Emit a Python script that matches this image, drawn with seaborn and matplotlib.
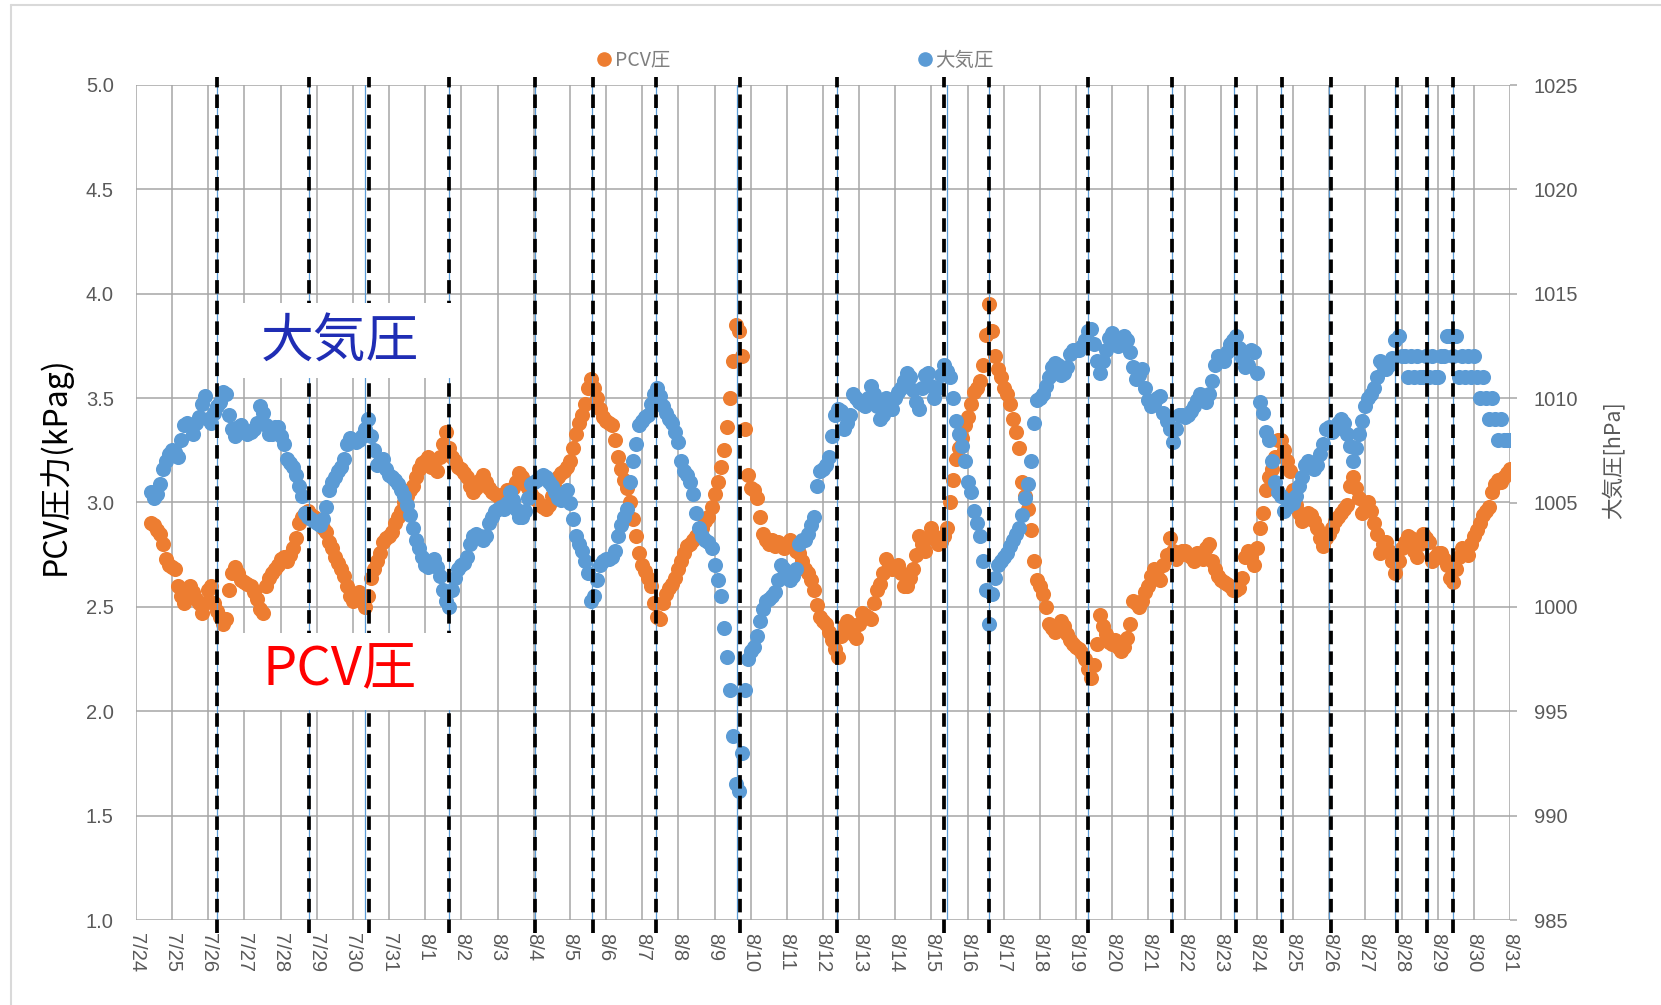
import matplotlib
matplotlib.use("Agg")
import matplotlib.pyplot as plt
import seaborn as sns
import pandas as pd
import numpy as np
from matplotlib.patches import Rectangle
from matplotlib.lines import Line2D

# ---------------- data ----------------
series_start = "2018-07-24 10:00"   # first sample, 2-hour interval
step = "2h"

# PCV pressure [kPag], 2-hourly from 7/24 10:00
pcv_kpa = [
    2.90, 2.89, 2.87, 2.85, 2.80, 2.73, 2.70,
    2.69, 2.68, 2.60, 2.55, 2.52, 2.55, 2.60, 2.57, 2.54, 2.52, 2.47, 2.52,
    2.58, 2.60, 2.52, 2.48, 2.45, 2.42, 2.44, 2.58, 2.66, 2.69, 2.66, 2.63,
    2.62, 2.61, 2.60, 2.57, 2.54, 2.49, 2.47, 2.60, 2.64, 2.66, 2.68, 2.70,
    2.73, 2.74, 2.72, 2.75, 2.78, 2.83, 2.90, 2.93, 2.95, 2.96, 2.94, 2.93,
    2.92, 2.90, 2.88, 2.86, 2.81, 2.78, 2.74, 2.71, 2.68, 2.65, 2.60, 2.55,
    2.53, 2.56, 2.57, 2.54, 2.50, 2.55, 2.64, 2.68, 2.72, 2.76, 2.81, 2.83,
    2.84, 2.86, 2.90, 2.93, 2.96, 3.00, 3.03, 3.06, 3.08, 3.12, 3.16, 3.19,
    3.20, 3.22, 3.17, 3.20, 3.15, 3.22, 3.28, 3.34, 3.26, 3.22, 3.20, 3.17,
    3.16, 3.14, 3.12, 3.08, 3.05, 3.07, 3.11, 3.13, 3.10, 3.07, 3.05, 3.04,
    3.03, 3.02, 3.04, 3.06, 3.05, 3.07, 3.10, 3.14, 3.12, 3.09, 3.07, 3.04,
    3.02, 3.01, 2.99, 2.98, 2.97, 2.99, 3.03, 3.07, 3.12, 3.14, 3.15, 3.17,
    3.20, 3.26, 3.33, 3.38, 3.42, 3.47, 3.55, 3.59, 3.55, 3.50, 3.45, 3.41,
    3.39, 3.38, 3.37, 3.30, 3.22, 3.16, 3.11, 3.07, 3.00, 2.92, 2.84, 2.76,
    2.70, 2.67, 2.64, 2.60, 2.52, 2.45, 2.44, 2.52, 2.56, 2.59, 2.61, 2.64,
    2.68, 2.72, 2.76, 2.79, 2.80, 2.82, 2.84, 2.86, 2.88, 2.91, 2.93, 2.98,
    3.04, 3.10, 3.17, 3.25, 3.36, 3.50, 3.68, 3.85, 3.82, 3.70, 3.35, 3.13,
    3.07, 3.06, 3.02, 2.93, 2.85, 2.82, 2.80, 2.82, 2.79, 2.81, 2.80, 2.78,
    2.80, 2.82, 2.79, 2.77, 2.76, 2.72, 2.68, 2.66, 2.63, 2.58, 2.51, 2.45,
    2.43, 2.42, 2.38, 2.34, 2.30, 2.26, 2.36, 2.41, 2.43, 2.42, 2.37, 2.35,
    2.42, 2.47, 2.46, 2.45, 2.44, 2.52, 2.58, 2.61, 2.66, 2.73, 2.70, 2.68,
    2.69, 2.70, 2.66, 2.60, 2.60, 2.64, 2.68, 2.75, 2.84, 2.80, 2.77, 2.83,
    2.88, 2.84, 2.80, 2.81, 2.84, 2.88, 3.00, 3.11, 3.21, 3.26, 3.31, 3.37,
    3.41, 3.47, 3.53, 3.55, 3.58, 3.66, 3.80, 3.95, 3.82, 3.70, 3.64, 3.60,
    3.55, 3.52, 3.47, 3.40, 3.34, 3.26, 3.10, 3.03, 2.97, 2.87, 2.72, 2.63,
    2.60, 2.56, 2.50, 2.42, 2.40, 2.38, 2.41, 2.43, 2.41, 2.37, 2.34, 2.32,
    2.31, 2.30, 2.28, 2.25, 2.20, 2.16, 2.22, 2.32, 2.46, 2.41, 2.37, 2.33,
    2.32, 2.34, 2.31, 2.29, 2.31, 2.35, 2.42, 2.53, 2.52, 2.50, 2.53, 2.57,
    2.60, 2.65, 2.68, 2.65, 2.63, 2.70, 2.75, 2.83, 2.77, 2.73, 2.75, 2.77,
    2.77, 2.75, 2.74, 2.72, 2.76, 2.75, 2.73, 2.78, 2.80, 2.72, 2.68, 2.65,
    2.63, 2.62, 2.61, 2.60, 2.58, 2.58, 2.59, 2.64, 2.74, 2.77, 2.74, 2.70,
    2.78, 2.88, 2.95, 3.06, 3.12, 3.16, 3.22, 3.30, 3.30, 3.25, 3.20, 3.15,
    3.06, 2.99, 2.95, 2.91, 2.92, 2.95, 2.94, 2.91, 2.88, 2.83, 2.79, 2.83,
    2.85, 2.88, 2.91, 2.93, 2.95, 2.97, 2.99, 3.08, 3.12, 3.07, 3.02, 2.95,
    2.97, 3.00, 2.96, 2.90, 2.85, 2.76, 2.80, 2.81, 2.77, 2.72, 2.66, 2.72,
    2.78, 2.81, 2.84, 2.83, 2.77, 2.74, 2.80, 2.85, 2.83, 2.81, 2.72, 2.74,
    2.76, 2.76, 2.73, 2.70, 2.64, 2.62, 2.68, 2.74, 2.78, 2.77, 2.75, 2.80,
    2.84, 2.87, 2.90, 2.94, 2.96, 2.98, 3.05, 3.09, 3.11, 3.10, 3.12, 3.14,
    3.16,
]

# Atmospheric pressure [hPa], 2-hourly from 7/24 10:00
atm_hpa = [
    1005.5, 1005.2, 1005.4, 1005.9, 1006.6, 1007.0, 1007.3,
    1007.5, 1007.4, 1007.2, 1008.0, 1008.7, 1008.8, 1008.7, 1008.3, 1008.8, 1009.1, 1009.7, 1010.1,
    1009.0, 1008.8, 1009.3, 1009.6, 1009.8, 1010.3, 1010.2, 1009.2, 1008.5, 1008.2, 1008.6, 1008.7,
    1008.4, 1008.3, 1008.4, 1008.5, 1008.8, 1009.6, 1009.3, 1008.7, 1008.3, 1008.3, 1008.6, 1008.6,
    1008.2, 1007.8, 1007.1, 1006.9, 1006.7, 1006.3, 1005.8, 1005.3, 1004.5, 1004.3, 1004.2, 1004.1,
    1004.0, 1003.9, 1004.2, 1004.8, 1005.6, 1006.0, 1006.2, 1006.5, 1006.7, 1007.1, 1007.8, 1008.1,
    1008.0, 1007.9, 1008.0, 1008.2, 1008.5, 1009.0, 1008.2, 1007.5, 1006.8, 1007.0, 1007.1, 1006.6,
    1006.3, 1006.2, 1006.1, 1005.9, 1005.6, 1005.3, 1004.9, 1004.4, 1003.8, 1003.2, 1002.8, 1002.4,
    1002.0, 1001.9, 1002.2, 1002.3, 1001.9, 1001.5, 1000.8, 1000.3, 1000.0, 1000.8, 1001.4, 1001.8,
    1002.0, 1002.1, 1002.4, 1003.0, 1003.4, 1003.5, 1003.4, 1003.2, 1003.4, 1004.0, 1004.3, 1004.6,
    1004.7, 1004.8, 1004.7, 1005.0, 1005.5, 1005.1, 1004.7, 1004.3, 1004.3, 1004.6, 1005.2, 1005.9,
    1006.0, 1006.1, 1006.2, 1006.3, 1006.2, 1006.0, 1005.8, 1005.5, 1005.2, 1005.1, 1005.2, 1005.6,
    1005.0, 1004.2, 1003.4, 1003.0, 1002.7, 1002.2, 1001.6, 1000.3, 1000.5, 1001.3, 1002.0, 1002.2,
    1002.3, 1002.3, 1002.4, 1002.7, 1003.4, 1003.9, 1004.3, 1004.7, 1006.0, 1007.0, 1007.8, 1008.7,
    1008.9, 1009.1, 1009.2, 1009.7, 1010.2, 1010.5, 1010.1, 1009.6, 1009.3, 1009.0, 1008.8, 1008.4,
    1007.9, 1007.0, 1006.5, 1006.3, 1006.0, 1005.4, 1004.5, 1003.8, 1003.4, 1003.2, 1003.1, 1002.8,
    1002.0, 1001.3, 1000.5, 999.0, 997.6, 996.0, 993.8, 991.5, 991.2, 993.0, 996.0, 997.5,
    997.9, 998.1, 998.6, 999.3, 999.9, 1000.3, 1000.4, 1000.5, 1000.7, 1001.3, 1002.0, 1001.8,
    1001.4, 1001.3, 1001.5, 1001.8, 1003.0, 1003.2, 1003.2, 1003.5, 1003.9, 1004.3, 1005.8, 1006.5,
    1006.6, 1006.8, 1007.2, 1008.2, 1009.2, 1009.5, 1009.4, 1008.5, 1008.8, 1009.2, 1010.2, 1010.0,
    1009.8, 1009.7, 1009.6, 1010.0, 1010.6, 1010.2, 1009.6, 1009.0, 1009.2, 1010.0, 1009.8, 1009.5,
    1010.0, 1010.3, 1010.5, 1010.8, 1011.2, 1011.0, 1010.4, 1009.8, 1009.5, 1010.5, 1011.1, 1011.2,
    1010.6, 1010.0, 1010.5, 1011.1, 1011.6, 1011.3, 1011.0, 1010.0, 1008.9, 1008.3, 1007.7, 1007.0,
    1006.0, 1005.5, 1004.6, 1004.0, 1003.4, 1002.2, 1000.8, 999.2, 1000.6, 1001.4, 1002.0, 1002.2,
    1002.4, 1002.6, 1002.9, 1003.2, 1003.5, 1003.8, 1004.4, 1005.2, 1005.9, 1007.0, 1008.8, 1009.9,
    1010.0, 1010.2, 1010.6, 1011.0, 1011.5, 1011.7, 1011.6, 1011.1, 1011.2, 1011.5, 1012.1, 1012.3,
    1012.3, 1012.3, 1012.5, 1012.8, 1013.2, 1013.3, 1012.6, 1011.8, 1011.2, 1011.8, 1012.3, 1012.9,
    1013.1, 1012.8, 1012.5, 1012.8, 1013.0, 1012.8, 1012.2, 1011.5, 1010.9, 1011.1, 1011.4, 1010.5,
    1009.9, 1009.6, 1009.7, 1010.0, 1010.1, 1009.3, 1008.9, 1008.5, 1007.9, 1008.5, 1009.2, 1009.2,
    1009.1, 1009.2, 1009.4, 1009.6, 1009.9, 1010.2, 1010.0, 1009.8, 1010.2, 1010.8, 1011.6, 1012.0,
    1011.9, 1011.8, 1012.2, 1012.6, 1012.8, 1013.0, 1012.4, 1011.9, 1011.5, 1011.6, 1012.3, 1012.2,
    1011.2, 1009.8, 1009.3, 1008.4, 1008.0, 1007.0, 1006.0, 1005.5, 1005.3, 1004.6, 1004.8, 1005.1,
    1005.0, 1005.3, 1005.8, 1006.2, 1006.8, 1007.0, 1006.8, 1006.6, 1006.8, 1007.3, 1007.8, 1008.5,
    1008.6, 1008.4, 1008.5, 1008.8, 1009.0, 1008.8, 1008.3, 1007.7, 1007.0, 1007.6, 1008.3, 1008.9,
    1009.6, 1010.0, 1010.2, 1010.5, 1011.0, 1011.8, 1011.6, 1011.4, 1011.6, 1011.9, 1012.8, 1013.0,
    1012, 1012, 1011, 1012, 1011, 1012, 1011, 1011, 1012, 1011, 1012, 1011,
    1011, 1012, 1012, 1013, 1013, 1012, 1013, 1011, 1012, 1011, 1012, 1011,
    1012, 1011, 1010, 1011, 1010, 1009, 1010, 1009, 1008, 1009, 1008, 1008,
    1008,
]

# event markers (black dashed) and thin blue reference lines
event_times = [
    "2018-07-26 06:00", "2018-07-28 18:30", "2018-07-30 10:30", "2018-08-01 16:00",
    "2018-08-04 01:00", "2018-08-05 15:30", "2018-08-07 09:00", "2018-08-09 17:00",
    "2018-08-12 09:30", "2018-08-15 08:00", "2018-08-16 14:00", "2018-08-19 08:00",
    "2018-08-21 15:30", "2018-08-23 10:00", "2018-08-24 16:30", "2018-08-26 01:00",
    "2018-08-27 21:00", "2018-08-28 17:00", "2018-08-29 10:00",
]
blue_times = [
    "2018-07-26 06:00", "2018-07-28 18:30", "2018-07-30 08:00", "2018-08-01 16:00",
    "2018-08-04 01:00", "2018-08-05 15:00", "2018-08-07 09:00", "2018-08-09 15:00",
    "2018-08-12 09:15", "2018-08-15 10:30", "2018-08-16 14:00", "2018-08-19 08:00",
    "2018-08-21 15:30", "2018-08-23 09:00", "2018-08-24 16:00", "2018-08-26 00:00",
    "2018-08-27 20:00", "2018-08-28 17:30", "2018-08-29 10:00",
]

x_start, x_end = "2018-07-24", "2018-08-31"
x_tick_labels = ["7/24", "7/25", "7/26", "7/27", "7/28", "7/29", "7/30", "7/31",
                 "8/1", "8/2", "8/3", "8/4", "8/5", "8/6", "8/7", "8/8", "8/9", "8/10",
                 "8/11", "8/12", "8/13", "8/14", "8/15", "8/16", "8/17", "8/18", "8/19",
                 "8/20", "8/21", "8/22", "8/23", "8/24", "8/25", "8/26", "8/27", "8/28",
                 "8/29", "8/30", "8/31"]
left_ticks = [1.0, 1.5, 2.0, 2.5, 3.0, 3.5, 4.0, 4.5, 5.0]
left_tick_labels = ["1.0", "1.5", "2.0", "2.5", "3.0", "3.5", "4.0", "4.5", "5.0"]
right_ticks = [985, 990, 995, 1000, 1005, 1010, 1015, 1020, 1025]
right_tick_labels = ["985", "990", "995", "1000", "1005", "1010", "1015", "1020", "1025"]

# ---------------- style ----------------
sns.set_style("white")
plt.rcParams['font.family'] = ['Noto Sans CJK JP', 'DejaVu Sans']

ORANGE = "#ED7D31"
BLUE = "#5B9BD5"
GRID = "#A6A6A6"
TXT = "#595959"
TICKFONT = ['Liberation Sans', 'DejaVu Sans']

W, H = 1661, 1005
fig = plt.figure(figsize=(W / 100, H / 100), dpi=100)
fig.patch.set_facecolor("white")
ax1 = fig.add_axes([136 / W, 85 / H, 1374 / W, 835 / H])
ax2 = ax1.twinx()

pcv_df = pd.DataFrame({"time": pd.date_range(series_start, periods=len(pcv_kpa), freq=step),
                       "value": pcv_kpa})
atm_df = pd.DataFrame({"time": pd.date_range(series_start, periods=len(atm_hpa), freq=step),
                       "value": atm_hpa})

sns.scatterplot(data=pcv_df, x="time", y="value", ax=ax1, color=ORANGE, s=118,
                linewidth=0, legend=False, zorder=3)
sns.scatterplot(data=atm_df, x="time", y="value", ax=ax2, color=BLUE, s=118,
                linewidth=0, legend=False, zorder=3)

tick_dates = pd.date_range(x_start, x_end, freq="D")
ax1.set_xlim(pd.Timestamp(x_start), pd.Timestamp(x_end))
ax1.set_ylim(left_ticks[0], left_ticks[-1])
ax2.set_ylim(right_ticks[0], right_ticks[-1])

ax1.set_xticks(tick_dates)
ax1.set_xticklabels(x_tick_labels, rotation=-90, fontfamily=TICKFONT, fontsize=14.5, color=TXT)
ax1.set_yticks(left_ticks)
ax1.set_yticklabels(left_tick_labels, fontfamily=TICKFONT, fontsize=14.5, color=TXT)
ax2.set_yticks(right_ticks)
ax2.set_yticklabels(right_tick_labels, fontfamily=TICKFONT, fontsize=14.5, color=TXT)

ax1.tick_params(axis="x", length=0, pad=9)
ax1.tick_params(axis="y", length=0, pad=16)
ax2.tick_params(axis="y", length=5, width=1.1, color=GRID, pad=12)

ax1.set_xlabel("")
ax1.set_ylabel("")
ax2.set_xlabel("")
ax2.set_ylabel("")

ax1.grid(True, color=GRID, linewidth=1.1)
ax1.set_axisbelow(True)
ax2.grid(False)
for ax in (ax1, ax2):
    for sp in ax.spines.values():
        sp.set_visible(False)

# vertical reference lines
for t in blue_times:
    ax2.axvline(pd.Timestamp(t), color=BLUE, linewidth=0.9, zorder=5)
for t in event_times:
    ax2.axvline(pd.Timestamp(t), ymin=-0.015, ymax=1.01, color="black", linewidth=2.7,
                linestyle=(0, (3.6, 1.9)), clip_on=False, zorder=6)

# annotation boxes
ax2.add_patch(Rectangle((0.0604, 0.649), 0.1696, 0.0898, transform=ax2.transAxes,
                        facecolor="white", edgecolor="none", zorder=8))
ax2.text(0.1485, 0.692, "大気圧", transform=ax2.transAxes, ha="center", va="center",
         fontsize=38, color="#1F2DB4", zorder=9)
ax2.add_patch(Rectangle((0.0611, 0.2515), 0.1747, 0.0922, transform=ax2.transAxes,
                        facecolor="white", edgecolor="none", zorder=8))
ax2.text(0.1485, 0.2995, "PCV圧", transform=ax2.transAxes, ha="center", va="center",
         fontsize=39, color="#FF0000", zorder=9)

# axis titles
fig.text(55 / W, 1 - 466 / H, "PCV圧力(kPag)", rotation=90, ha="center", va="center",
         fontsize=23, color="black")
fig.text(1613 / W, 1 - 460 / H, "大気圧[hPa]", rotation=90, ha="center", va="center",
         fontsize=15.5, color=TXT)

# legend
handles = [Line2D([], [], marker="o", linestyle="", color=ORANGE, markersize=9.5, label="PCV圧"),
           Line2D([], [], marker="o", linestyle="", color=BLUE, markersize=9.5, label="大気圧")]
fig.legend(handles=handles, loc="center", bbox_to_anchor=(0.478, 0.94), ncol=2, frameon=False,
           columnspacing=12.6, handletextpad=0.05, handlelength=1.0, fontsize=14,
           labelcolor="#7F7F7F")

# outer chart frame
fig.add_artist(Line2D([11 / W, 11 / W], [0, 1 - 5 / H], color="#D9D9D9", linewidth=1.5))
fig.add_artist(Line2D([11 / W, 1], [1 - 5 / H, 1 - 5 / H], color="#D9D9D9", linewidth=1.5))

fig.savefig("out.png", dpi=100)
